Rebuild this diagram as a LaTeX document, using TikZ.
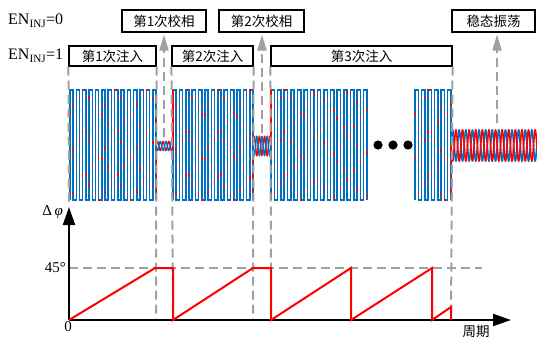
\documentclass[tikz,border=0pt]{standalone}
\usepackage{fontspec}
\setmainfont{Liberation Serif}
\newfontfamily\cjk{Noto Sans CJK SC}
\usetikzlibrary{arrows.meta}
\definecolor{wblue}{RGB}{0,112,192}
\definecolor{wred}{RGB}{255,0,0}
\definecolor{dgray}{RGB}{160,160,160}
\newcommand\mysqw[4]{%
  \draw[#4] (#1,200) \foreach \k in {1,...,#2}{ -- ++(0,-110) -- ++(#3,0) -- ++(0,110) -- ++(#3,0)} -- ++(0,-110) -- ++(#3,0) -- ++(0,110);}
\begin{document}
\begin{tikzpicture}[x=1pt,y=-1pt,
  box/.style={draw=black,line width=1.1pt,fill=white,inner sep=0pt,font=\cjk\fontsize{13.5}{14}\selectfont},
  gdash/.style={draw=dgray,line width=2pt,dash pattern=on 9pt off 5pt},
  garrow/.style={gdash,-{Triangle[length=16pt,width=9pt,fill=dgray]}},
  bw/.style={wblue,line width=1.5pt,line join=miter},
  bwd/.style={bw,dash pattern=on 41pt off 2.5pt},
  rw/.style={wred,line width=1.5pt,line join=miter},
  axis/.style={black,line width=2pt,-{Triangle[length=18pt,width=12pt]}},
  saw/.style={wred,line width=2pt,line join=miter},
  lbl/.style={inner sep=0pt,font=\fontsize{15}{16}\selectfont}]
\useasboundingbox (0,0) rectangle (537,338);

% --- signals ---
\mysqw{70}{13}{3.185}{rw}
\mysqw{173}{12}{3.2}{rw}
\mysqw{271}{14}{3.31}{rw}
\mysqw{415}{5}{3.27}{rw}
\mysqw{70}{13}{3.185}{bwd}
\mysqw{173}{12}{3.2}{bwd}
\mysqw{271}{14}{3.31}{bwd}
\mysqw{415}{5}{3.27}{bwd}
\draw[rw] (156.4,146) -- (156.4,200);
\draw[rw] (173,146) -- (173,90);
\draw[rw] (253.4,146) -- (253.4,200);
\draw[rw] (271,146) -- (271,90);
\draw[rw] (451.4,146) -- (451.4,200);
% small oscillations
\draw[rw,line width=1.4pt,domain=156:173,samples=80] plot (\x,{146-4.5*sin((\x-156)/5.67*360)});
\draw[bw,line width=1.4pt,domain=156:173,samples=80] plot (\x,{146+4.5*sin((\x-156)/5.67*360)});
\draw[rw,line width=1.4pt,domain=253:271,samples=80] plot (\x,{146-9.5*sin((\x-253)/5.14*360)});
\draw[bw,line width=1.4pt,domain=253:271,samples=80] plot (\x,{146+9.5*sin((\x-253)/5.14*360)});
% steady oscillation
\draw[bw,line width=1.6pt,domain=451:537,samples=400] plot (\x,{145.5-15.5*sin((\x-451)/6.6*360)});
\draw[rw,line width=1.6pt,domain=451:537,samples=400] plot (\x,{145.5+15.5*sin((\x-451)/6.6*360)});
% dots
\fill[black] (378,145) circle (4.6pt) (393,145) circle (4.6pt) (408,145) circle (4.6pt);

% --- boxes ---
\node[box,minimum width=84pt,minimum height=22pt] (c1) at (164,21) {第1次校相};
\node[box,minimum width=85pt,minimum height=22pt] (c2) at (261.5,21) {第2次校相};
\node[box,minimum width=83pt,minimum height=22pt] (c3) at (493.5,21) {稳态振荡};
\node[box,minimum width=87pt,minimum height=20pt] (i1) at (112.5,56) {第1次注入};
\node[box,minimum width=81pt,minimum height=20pt] (i2) at (212.5,56) {第2次注入};
\node[box,minimum width=181pt,minimum height=20pt] (i3) at (361.5,56) {第3次注入};
\node[lbl,anchor=west,font=\fontsize{16}{17}\selectfont] (en0) at (8,21) {EN\textsubscript{INJ}=0};
\node[lbl,anchor=west,font=\fontsize{16}{17}\selectfont] (en1) at (8,56) {EN\textsubscript{INJ}=1};

% --- coordinates ---
\coordinate (o) at (69,320);
\coordinate (ytip) at (69,207);
\coordinate (xtip) at (511,320);
\coordinate (d1) at (69,203);
\coordinate (d2) at (156,320);
\coordinate (d3) at (173,320);
\coordinate (d4) at (253,320);
\coordinate (d5) at (271,320);
\coordinate (d6) at (451,320);
\coordinate (a1) at (164,137);
\coordinate (a2) at (262,133);
\coordinate (a3) at (497,123);
\coordinate (h0) at (69,268);
\coordinate (h1) at (482,268);

% --- dashed guides ---
\draw[gdash] (i1.south west) -- (d1);
\draw[gdash] (i1.south east) -- (d2);
\draw[gdash] (i2.south west) -- (d3);
\draw[gdash] (i2.south east) -- (d4);
\draw[gdash] (i3.south west) -- (d5);
\draw[gdash] (i3.south east) -- (d6);
\draw[gdash] (h0) -- (h1);
\draw[garrow] (a1) -- ([yshift=-2pt]c1.south -| a1);
\draw[garrow] (a2) -- ([yshift=-2pt]c2.south -| a2);
\draw[garrow] (a3) -- ([yshift=-2pt]c3.south -| a3);

% --- axes ---
\draw[axis] (o) -- (ytip);
\draw[axis] (o) -- (xtip);
\draw[saw] (o) -- (155,268) -- (173,268) -- (173,320) -- (253,268) -- (271,268) -- (271,320)
  -- (351,268) -- (351,320) -- (432,268) -- (432,320) -- (451,307) -- (451,320);

% --- labels ---
\node[lbl,anchor=east] (dphi) at (63,212) {Δ\,\textit{φ}};
\node[lbl,anchor=east] (l45) at (66,268) {45°};
\node[lbl,anchor=north] (l0) at (68,321) {0};
\node[inner sep=0pt,font=\cjk\fontsize{13.5}{14}\selectfont,anchor=north] (per) at (476,325) {周期};
\end{tikzpicture}
\end{document}
